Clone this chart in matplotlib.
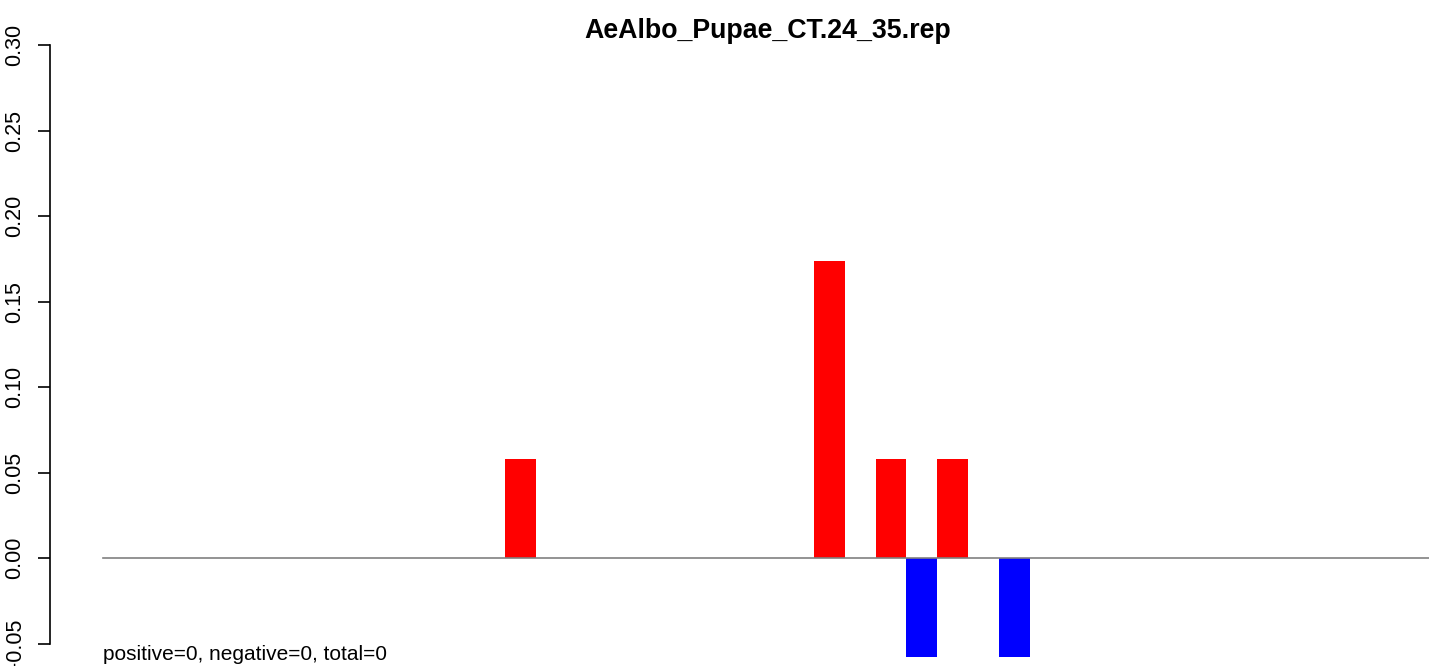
import numpy as np
import matplotlib.pyplot as plt

plt.rcParams['font.family'] = ['Liberation Sans', 'DejaVu Sans']

title = 'AeAlbo_Pupae_CT.24_35.rep'
n_bins = 50
bin_index = [13, 23, 25, 26, 27, 29]
bin_value = [0.058, 0.174, 0.058, -0.058, 0.058, -0.058]
yticks = [-0.05, 0.00, 0.05, 0.10, 0.15, 0.20, 0.25, 0.30]
note = 'positive=0, negative=0, total=0'

W, H = 1429, 666
fig = plt.figure(figsize=(W / 100, H / 100), dpi=100)

# pixel geometry of the plot region
x_left_px = 50
x0_px, bar_px = 103, 30.9      # left edge of bin 0, width of one bin
y0_px, unit_px = 558.3, 1710.0  # y=0 position, pixels per data unit

ax = fig.add_axes([x_left_px / W, 0, (W - x_left_px) / W, 1])
ax.set_xlim((x_left_px - x0_px) / bar_px, (W - x0_px) / bar_px)
ax.set_ylim(-(H - y0_px) / unit_px, y0_px / unit_px)

colors = ['red' if v > 0 else 'blue' for v in bin_value]
ax.bar(bin_index, bin_value, width=1.0, align='edge', color=colors, linewidth=0)
ax.plot([0, n_bins], [0, 0], color='#808080', lw=1.2)

for s in ['top', 'right', 'bottom']:
    ax.spines[s].set_visible(False)
ax.spines['left'].set_bounds(yticks[0], yticks[-1])
ax.spines['left'].set_linewidth(1.2)
ax.set_xticks([])
ax.set_yticks(yticks)
ax.set_yticklabels(['%.2f' % t for t in yticks], rotation=90, va='center', fontsize=15.5)
ax.tick_params(axis='y', length=8.6, width=1.2, pad=9)

ax.text(0, -(660 - y0_px) / unit_px, note, fontsize=15, ha='left', va='baseline')
fig.text(768 / W, 1 - 37.5 / H, title, fontsize=19.3, fontweight='bold', ha='center', va='baseline')

fig.savefig('out.png', dpi=100)
